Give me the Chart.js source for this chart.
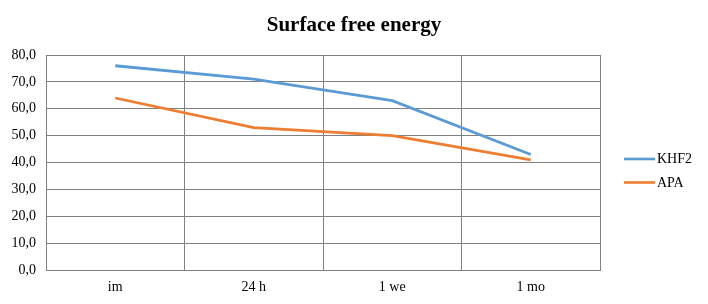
<!DOCTYPE html>
<html>
<head>
<meta charset="utf-8">
<script src="https://cdn.jsdelivr.net/npm/chart.js@4/dist/chart.umd.min.js"></script>
<style>
html,body{margin:0;padding:0;background:#fff;}
#wrap{width:708px;height:304px;position:relative;}
</style>
</head>
<body>
<div id="wrap"><canvas id="c" width="708" height="304"></canvas></div>
<script>
const categories = ["im", "24 h", "1 we", "1 mo"];
const khf2 = [76.0, 71.0, 63.0, 43.0];
const apa = [64.0, 53.0, 50.0, 41.0];
const seriesNames = ["KHF2", "APA"];
const seriesColors = ["#5B9BD5", "#ED7D31"];
const yMin = 0, yMax = 80, yStep = 10;

const FONT = "'Liberation Serif', 'Times New Roman', serif";

const legendPlugin = {
  id: 'sideLegend',
  beforeInit(chart) {
    const box = {
      position: 'right', fullSize: false, weight: 1000,
      options: { stack: undefined, stackWeight: 1 },
      width: 108, height: 0,
      left: 0, top: 0, right: 0, bottom: 0,
      isHorizontal() { return false; },
      update(maxW, maxH) { this.width = 108; this.height = maxH; return { width: 108, height: maxH }; },
      draw() {}
    };
    Chart.layouts.addBox(chart, box);
  },
  afterDraw(chart) {
    const ctx = chart.ctx;
    ctx.save();
    ctx.font = "14px " + FONT;
    ctx.textBaseline = 'middle';
    ctx.fillStyle = '#000';
    chart.data.datasets.forEach((ds, i) => {
      const y = 159 + i * 23.5;
      ctx.strokeStyle = ds.borderColor;
      ctx.lineWidth = 2.6;
      ctx.beginPath();
      ctx.moveTo(624, y);
      ctx.lineTo(655, y);
      ctx.stroke();
      ctx.fillText(ds.label, 657, y + 0.5);
    });
    ctx.restore();
  }
};

new Chart(document.getElementById('c'), {
  type: 'line',
  data: {
    labels: categories,
    datasets: [
      { label: seriesNames[0], data: khf2, borderColor: seriesColors[0], backgroundColor: seriesColors[0], borderWidth: 2.8, pointRadius: 0, tension: 0 },
      { label: seriesNames[1], data: apa, borderColor: seriesColors[1], backgroundColor: seriesColors[1], borderWidth: 2.8, pointRadius: 0, tension: 0 }
    ]
  },
  options: {
    responsive: false,
    animation: false,
    layout: { padding: { left: 0, right: 0, top: 0, bottom: 0 } },
    plugins: {
      legend: { display: false },
      tooltip: { enabled: false },
      title: {
        display: true,
        text: 'Surface free energy',
        color: '#000',
        font: { family: FONT, size: 21, weight: 'bold', lineHeight: 1.2 },
        padding: { top: 13, bottom: 16.8 }
      }
    },
    scales: {
      x: {
        offset: true,
        grid: { offset: true, color: '#808080', lineWidth: 1, drawTicks: false },
        border: { color: '#808080', width: 1 },
        ticks: { color: '#000', font: { family: FONT, size: 14 }, padding: 9, maxRotation: 0 },
        afterFit(scale) { scale.height = 34; }
      },
      y: {
        min: yMin, max: yMax,
        grid: { color: '#808080', lineWidth: 1, drawTicks: false },
        border: { color: '#808080', width: 1 },
        ticks: {
          stepSize: yStep,
          color: '#000',
          font: { family: FONT, size: 14 },
          padding: 10,
          callback: v => v.toFixed(1).replace('.', ',')
        },
        afterFit(scale) { scale.width = 46; }
      }
    }
  },
  plugins: [legendPlugin]
});
</script>
</body>
</html>
